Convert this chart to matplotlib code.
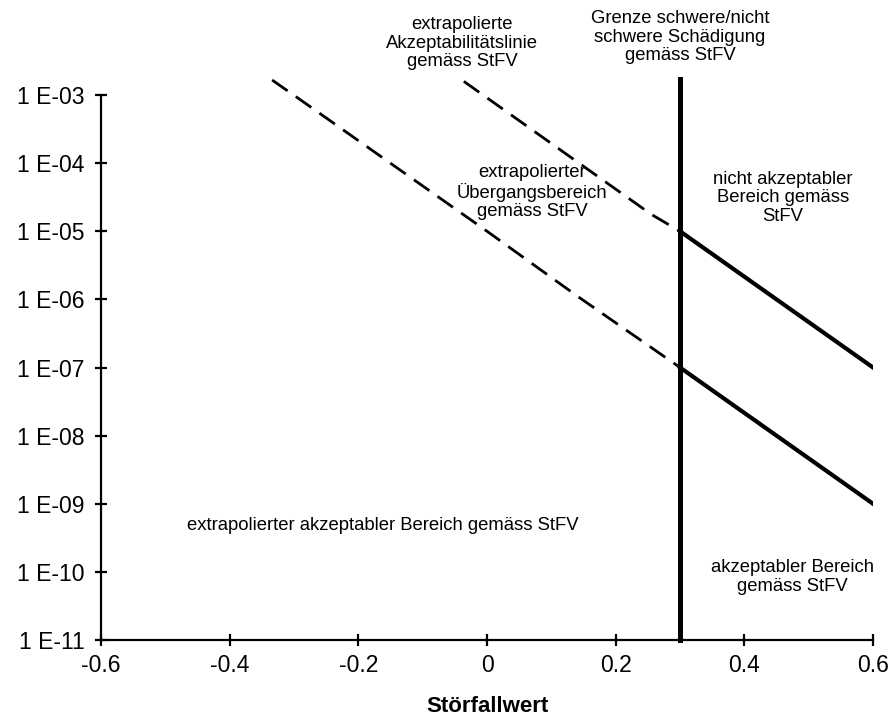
import numpy as np
import matplotlib
matplotlib.use("Agg")
import matplotlib.pyplot as plt

plt.rcParams['font.family'] = ['Liberation Sans', 'DejaVu Sans']

# Achsen
x_ticks = [-0.6, -0.4, -0.2, 0, 0.2, 0.4, 0.6]
x_tick_labels = ['-0.6', '-0.4', '-0.2', '0', '0.2', '0.4', '0.6']
y_ticks = [1e-11, 1e-10, 1e-9, 1e-8, 1e-7, 1e-6, 1e-5, 1e-4, 1e-3]
y_tick_labels = ['1 E-11', '1 E-10', '1 E-09', '1 E-08', '1 E-07',
                 '1 E-06', '1 E-05', '1 E-04', '1 E-03']

# Grenze schwere / nicht schwere Schaedigung
grenze_x = 0.3

# Akzeptabilitaetslinie (StFV) und Extrapolation
akz_x = [0.3, 0.6]
akz_y = [1e-5, 1e-7]
akz_ext_x = [-0.036, 0.255, 0.3]
akz_ext_y = [10**-2.8, 10**-4.75, 1e-5]

# untere Grenze Uebergangsbereich und Extrapolation
ueb_x = [0.3, 0.6]
ueb_y = [1e-7, 1e-9]
ueb_ext_x = [-0.334, -0.275, 0.0, 0.14, 0.3]
ueb_ext_y = [10**-2.78, 10**-3.17, 1e-5, 10**-5.95, 1e-7]

y_top = 10**-2.765

fig = plt.figure(figsize=(8.96, 7.22), dpi=100)
ax = fig.add_axes([101/896, 1 - 640/722, 772/896, (640 - 79)/722])

ax.set_yscale('log')
ax.set_xlim(-0.6, 0.6)
ax.set_ylim(1e-11, y_top)

dash = (0, (6.8, 3.6))
ax.plot(akz_ext_x, akz_ext_y, color='black', lw=2, linestyle=dash)
ax.plot(ueb_ext_x, ueb_ext_y, color='black', lw=2, linestyle=dash)
ax.plot(akz_x, akz_y, color='black', lw=3)
ax.plot(ueb_x, ueb_y, color='black', lw=3)
ax.plot([grenze_x, grenze_x], [1e-11, y_top], color='black', lw=3.6, clip_on=False)

# Achsenstil
for s in ['top', 'right']:
    ax.spines[s].set_visible(False)
ax.spines['left'].set_bounds(1e-11, 1e-3)
ax.spines['left'].set_linewidth(1.6)
ax.spines['bottom'].set_linewidth(1.6)

ax.set_xticks(x_ticks)
ax.set_xticklabels(x_tick_labels)
ax.yaxis.set_major_locator(matplotlib.ticker.FixedLocator(y_ticks))
ax.yaxis.set_minor_locator(matplotlib.ticker.NullLocator())
ax.set_yticklabels(y_tick_labels)
ax.tick_params(axis='both', direction='inout', length=8, width=1.6, labelsize=16.5)
ax.tick_params(axis='y', pad=8)
ax.tick_params(axis='x', pad=6)

ax.set_xlabel('Störfallwert', fontsize=16, fontweight='bold', labelpad=14)

# Beschriftungen (Pixelpositionen im Bild)
def label(px, py, text):
    fig.text(px / 896, 1 - py / 722, text, ha='center', va='center',
             fontsize=13.3, linespacing=1.12)

label(462, 43, 'extrapolierte\nAkzeptabilitätslinie\ngemäss StFV')
label(680, 37, 'Grenze schwere/nicht\nschwere Schädigung\ngemäss StFV')
label(532, 192, 'extrapolierter\nÜbergangsbereich\ngemäss StFV')
label(783, 198, 'nicht akzeptabler\nBereich gemäss\nStFV')
label(383, 525, 'extrapolierter akzeptabler Bereich gemäss StFV')
label(792, 577, 'akzeptabler Bereich\ngemäss StFV')

fig.savefig('out.png', dpi=100)
